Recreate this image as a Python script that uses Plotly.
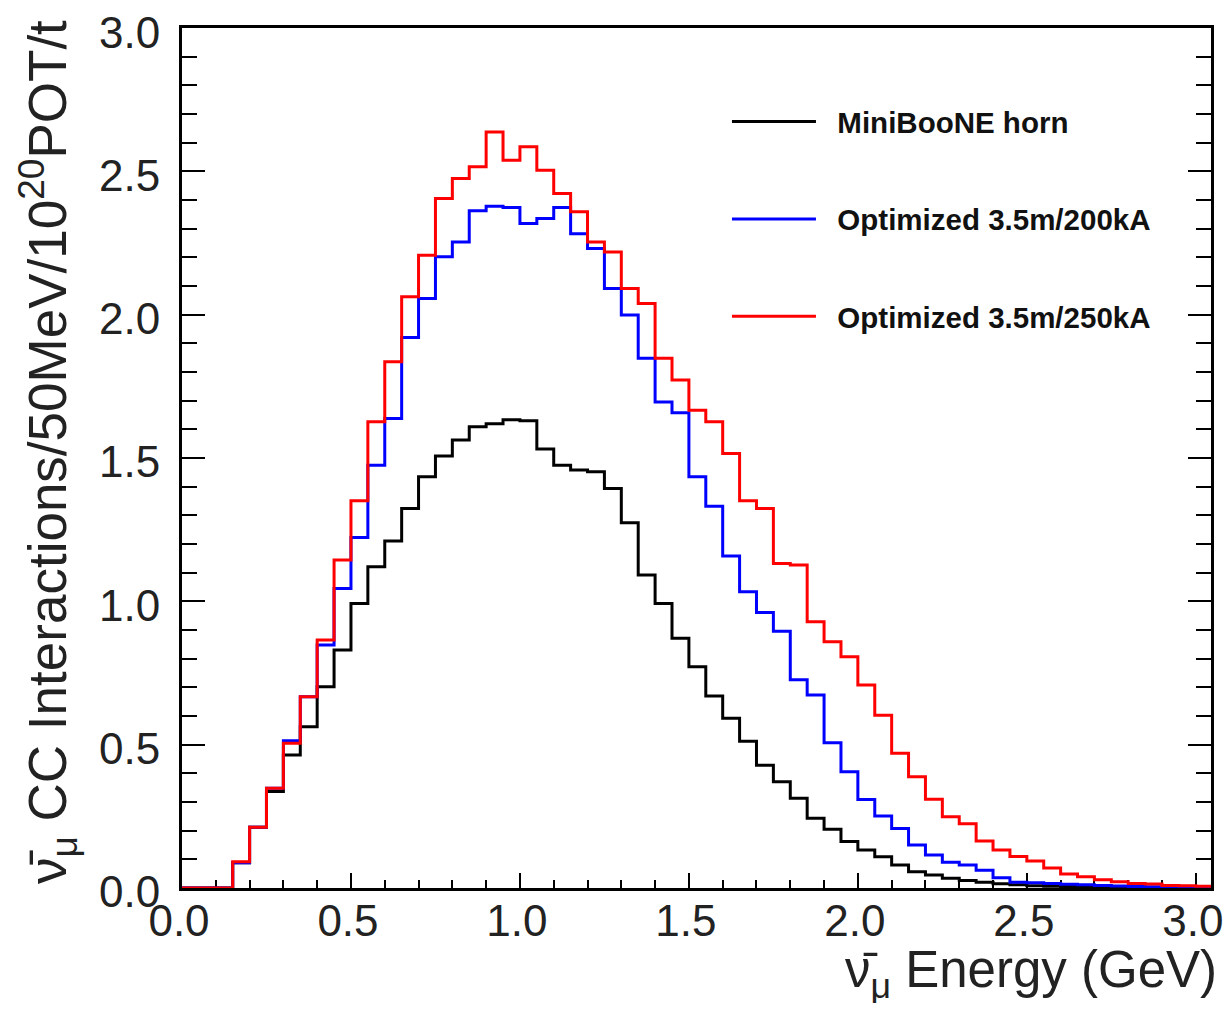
import plotly.graph_objects as go

# 50 MeV bins from 0.00 to 3.05 GeV (61 bins)
bin_width = 0.05
bin_low = [round(i * bin_width, 2) for i in range(61)]

miniboone = [0, 0, 0, 0.088, 0.212, 0.337, 0.464, 0.563, 0.702, 0.830,
             0.993, 1.121, 1.211, 1.324, 1.435, 1.507, 1.563, 1.609, 1.620, 1.634,
             1.630, 1.532, 1.475, 1.458, 1.452, 1.394, 1.274, 1.092, 0.993, 0.871,
             0.772, 0.670, 0.592, 0.512, 0.428, 0.371, 0.313, 0.243, 0.205, 0.162,
             0.133, 0.109, 0.080, 0.057, 0.045, 0.034, 0.026, 0.020, 0.015, 0.011,
             0.008, 0.006, 0.005, 0.004, 0.003, 0.002, 0.001, 0, 0, 0, 0]

opt200 = [0, 0, 0, 0.088, 0.212, 0.348, 0.514, 0.667, 0.848, 1.045,
          1.223, 1.475, 1.638, 1.921, 2.057, 2.202, 2.254, 2.363, 2.379, 2.374,
          2.318, 2.336, 2.374, 2.283, 2.231, 2.092, 1.999, 1.848, 1.696, 1.658,
          1.435, 1.332, 1.158, 1.034, 0.961, 0.896, 0.727, 0.673, 0.507, 0.406,
          0.309, 0.251, 0.208, 0.150, 0.115, 0.090, 0.080, 0.062, 0.036, 0.020,
          0.018, 0.016, 0.013, 0.011, 0.009, 0.007, 0.005, 0.004, 0.003, 0.002, 0]

opt250 = [0, 0, 0, 0.092, 0.212, 0.348, 0.505, 0.667, 0.865, 1.144,
          1.351, 1.627, 1.836, 2.063, 2.208, 2.406, 2.475, 2.516, 2.638, 2.539,
          2.586, 2.504, 2.423, 2.359, 2.254, 2.219, 2.092, 2.039, 1.848, 1.772,
          1.667, 1.627, 1.516, 1.351, 1.324, 1.132, 1.127, 0.929, 0.859, 0.807,
          0.708, 0.603, 0.470, 0.388, 0.310, 0.249, 0.224, 0.164, 0.133, 0.110,
          0.094, 0.070, 0.049, 0.039, 0.029, 0.022, 0.016, 0.014, 0.009, 0.008, 0.006]

series_names = ["MiniBooNE horn", "Optimized 3.5m/200kA", "Optimized 3.5m/250kA"]
series_values = [miniboone, opt200, opt250]
series_colors = ["#000000", "#0000ff", "#ff0000"]

x_ticks = [0.0, 0.5, 1.0, 1.5, 2.0, 2.5, 3.0]
y_ticks = [0.0, 0.5, 1.0, 1.5, 2.0, 2.5, 3.0]

FONT = "Liberation Sans, Arial, Helvetica, sans-serif"
NBSP = "\u00a0"

fig = go.Figure()
for i, (name, vals, col) in enumerate(zip(series_names, series_values, series_colors)):
    xs = bin_low + [round(bin_low[-1] + bin_width, 2)]
    ys = vals + [vals[-1]]
    fig.add_trace(go.Scatter(
        x=xs, y=ys, mode="lines", name=NBSP * 2 + name, legendgroup=f"g{i}",
        line=dict(color=col, width=3, shape="hv"),
    ))

# page body has an 8px default margin; size the figure so the page fits exactly
fig.update_layout(
    width=1215, height=995,
    margin=dict(l=174, r=12, t=20, b=115, autoexpand=False),
    paper_bgcolor="white", plot_bgcolor="white",
    font=dict(family=FONT, color="#222222"),
    showlegend=True,
    legend=dict(
        x=0.5296, y=0.921, xanchor="left", yanchor="top",
        font=dict(size=29.5, family=FONT, weight="bold", color="#111111"),
        itemwidth=84, tracegroupgap=56, bgcolor="rgba(0,0,0,0)",
    ),
)

fig.update_xaxes(
    range=[0, 3.045], tickvals=x_ticks, ticktext=[f"{v:.1f}" for v in x_ticks],
    ticks="inside", ticklen=15, tickwidth=2, tickcolor="black",
    minor=dict(dtick=0.1, tick0=0, ticks="inside", ticklen=8, tickwidth=2, tickcolor="black"),
    showline=True, linewidth=3, linecolor="black", mirror=True,
    showgrid=False, zeroline=False, layer="below traces", automargin=False,
    tickfont=dict(size=44, family=FONT, color="#222222"),
    ticklabelstandoff=-8, ticklabelshift=-3, ticklabeloverflow="allow",
)
fig.update_yaxes(
    range=[0, 3.0005], tickvals=y_ticks, ticktext=[f"{v:.1f}" for v in y_ticks],
    ticks="inside", ticklen=23, tickwidth=2, tickcolor="black",
    minor=dict(dtick=0.1, tick0=0, ticks="inside", ticklen=15, tickwidth=2, tickcolor="black"),
    showline=True, linewidth=3, linecolor="black", mirror="ticks",
    showgrid=False, zeroline=False, layer="below traces", automargin=False,
    tickfont=dict(size=44, family=FONT, color="#222222"),
    ticklabelstandoff=10, ticklabelshift=4, ticklabeloverflow="allow",
)

fig.add_annotation(
    text="ν̄<sub>μ</sub> CC Interactions/50MeV/10<sup>20</sup>POT/t",
    xref="paper", yref="paper", x=0, y=1, xanchor="center", yanchor="top",
    xshift=-135, yshift=10, textangle=-90, showarrow=False,
    font=dict(size=53, family=FONT, color="#222222"),
)
fig.add_annotation(
    text="ν̄<sub>μ</sub> Energy (GeV)",
    xref="paper", yref="paper", x=1, y=0, xanchor="right", yanchor="top",
    xshift=8, yshift=-51, showarrow=False,
    font=dict(size=51, family=FONT, color="#222222"),
)

fig.write_html("out.html")
